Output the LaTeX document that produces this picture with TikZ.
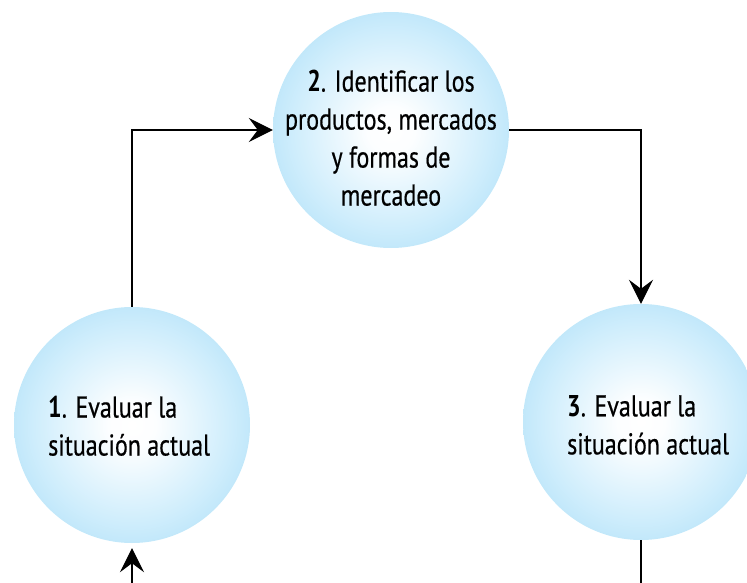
\documentclass[tikz,border=0pt]{standalone}
\usepackage{fontspec}
\setmainfont{PT Sans}[FakeStretch=0.8, UprightFeatures={FakeBold=0.5}]
\usetikzlibrary{arrows.meta}
\definecolor{sky}{RGB}{164,219,246}
\definecolor{skymid}{RGB}{206,237,252}
\pgfdeclareradialshading{ball}{\pgfpoint{0bp}{0bp}}{color(0bp)=(white); color(5bp)=(white!97!sky); color(21bp)=(skymid); color(35bp)=(sky); color(50bp)=(sky)}
\begin{document}
\begin{tikzpicture}[x=1pt,y=-1pt,
  ball/.style={circle, minimum size=236pt, inner sep=0pt, shading=ball},
  lbl/.style={font=\fontsize{30}{38}\selectfont, inner sep=0pt},
  conn/.style={draw=black, line width=1.1pt},
  tip/.style={-{Stealth[length=24pt,width=24pt,inset=9pt]}}]
\useasboundingbox (0,0) rectangle (747,583);
\clip (0,0) rectangle (747,583);
\node[ball] (c2) at (391,130) {};
\node[ball] (c1) at (132,425) {};
\node[ball] (c3) at (641,422) {};
\node[lbl, align=center] (t2) at (391,138) {\textbf{2}. Identificar los\\productos, mercados\\y formas de\\mercadeo};
\node[lbl, align=left, anchor=west] (t1) at (48,426) {\textbf{1}. Evaluar la\\situación actual};
\node[lbl, align=left, anchor=west] (t3) at (567,425) {\textbf{3}. Evaluar la\\situación actual};
\coordinate (k1) at (132,130);
\coordinate (k2) at (641,130);
\coordinate (b1) at (132,583);
\coordinate (b3) at (641,583);
\draw[conn, tip] (c1.north) -- (k1) -- (c2.west);
\draw[conn, tip] (c2.east) -- (k2) -- (c3.north);
\draw[conn] (c3.south) -- (b3);
\draw[conn, tip] (b1) -- ([yshift=-5pt]c1.south);
\end{tikzpicture}
\end{document}
